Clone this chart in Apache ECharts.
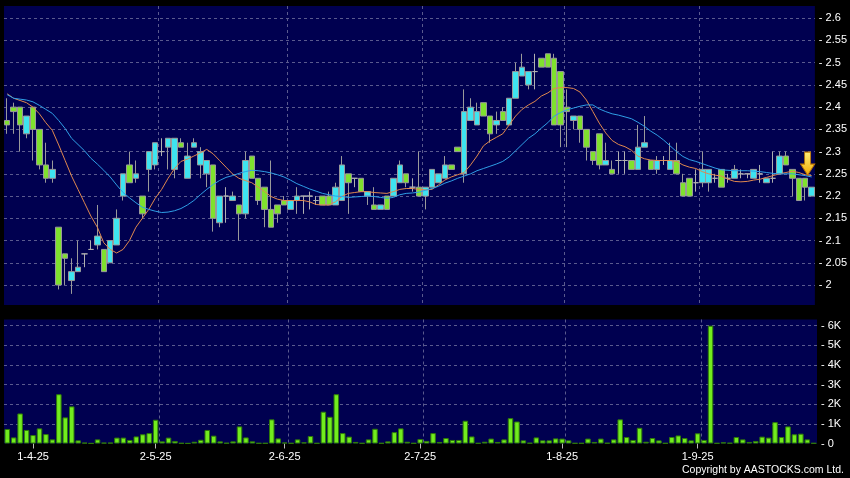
<!DOCTYPE html>
<html>
<head>
<meta charset="utf-8">
<script src="https://cdn.jsdelivr.net/npm/echarts@6/dist/echarts.min.js"></script>
<style>
html,body{margin:0;padding:0;background:#000;}
#c{width:850px;height:478px;}
</style>
</head>
<body>
<div id="c"></div>
<script>
// ---- data ----
const dates = [
 '2025-03-26','2025-03-27','2025-03-28','2025-03-31',
 '2025-04-01','2025-04-02','2025-04-03','2025-04-07','2025-04-08','2025-04-09','2025-04-10','2025-04-11','2025-04-14','2025-04-15',
 '2025-04-16','2025-04-17','2025-04-22','2025-04-23','2025-04-24','2025-04-25','2025-04-28','2025-04-29','2025-04-30',
 '2025-05-02','2025-05-06','2025-05-07','2025-05-08','2025-05-09','2025-05-12','2025-05-13','2025-05-14','2025-05-15','2025-05-16',
 '2025-05-19','2025-05-20','2025-05-21','2025-05-22','2025-05-23','2025-05-26','2025-05-27','2025-05-28','2025-05-29','2025-05-30',
 '2025-06-02','2025-06-03','2025-06-04','2025-06-05','2025-06-06','2025-06-09','2025-06-10','2025-06-11','2025-06-12','2025-06-13',
 '2025-06-16','2025-06-17','2025-06-18','2025-06-19','2025-06-20','2025-06-23','2025-06-24','2025-06-25','2025-06-26','2025-06-27','2025-06-30',
 '2025-07-02','2025-07-03','2025-07-04','2025-07-07','2025-07-08','2025-07-09','2025-07-10','2025-07-11','2025-07-14','2025-07-15',
 '2025-07-16','2025-07-17','2025-07-18','2025-07-21','2025-07-22','2025-07-23','2025-07-24','2025-07-25','2025-07-28','2025-07-29','2025-07-30','2025-07-31',
 '2025-08-01','2025-08-04','2025-08-05','2025-08-06','2025-08-07','2025-08-08','2025-08-11','2025-08-12','2025-08-13','2025-08-14','2025-08-15',
 '2025-08-18','2025-08-19','2025-08-20','2025-08-21','2025-08-22','2025-08-25','2025-08-26','2025-08-27','2025-08-28','2025-08-29',
 '2025-09-01','2025-09-02','2025-09-03','2025-09-04','2025-09-05','2025-09-08','2025-09-09','2025-09-10','2025-09-11','2025-09-12',
 '2025-09-15','2025-09-16','2025-09-17','2025-09-18','2025-09-19','2025-09-22','2025-09-23','2025-09-24','2025-09-25'
];
const opens = [
 2.37,2.40,2.40,2.34,2.40,2.35,2.27,2.24,2.13,2.07,
 2.01,2.03,2.07,2.08,2.09,2.08,2.05,2.09,2.20,2.27,
 2.24,2.20,2.26,2.27,2.30,2.31,2.26,2.32,2.24,2.31,
 2.27,2.25,2.27,2.14,2.20,2.19,2.18,2.16,2.29,2.24,
 2.22,2.17,2.18,2.19,2.17,2.19,2.20,2.20,2.19,2.20,
 2.20,2.18,2.19,2.25,2.24,2.24,2.20,2.18,2.17,2.20,
 2.20,2.23,2.25,2.22,2.22,2.20,2.22,2.23,2.24,2.27,
 2.31,2.25,2.37,2.36,2.41,2.38,2.36,2.39,2.36,2.42,
 2.47,2.45,2.48,2.51,2.52,2.51,2.48,2.40,2.37,2.38,
 2.35,2.30,2.34,2.27,2.26,2.28,2.28,2.28,2.26,2.31,
 2.28,2.26,2.28,2.26,2.28,2.23,2.24,2.23,2.23,2.23,
 2.24,2.26,2.24,2.24,2.25,2.25,2.24,2.25,2.23,2.24,
 2.25,2.29,2.26,2.24,2.24,2.20
];
const closes = [
 2.36,2.39,2.36,2.38,2.35,2.27,2.24,2.26,2.00,2.06,
 2.03,2.04,2.07,2.08,2.11,2.03,2.10,2.15,2.25,2.23,
 2.25,2.16,2.30,2.32,2.30,2.33,2.33,2.31,2.29,2.32,
 2.30,2.28,2.15,2.20,2.20,2.20,2.16,2.28,2.24,2.19,
 2.17,2.13,2.16,2.18,2.19,2.20,2.20,2.20,2.19,2.18,
 2.18,2.22,2.27,2.23,2.24,2.21,2.21,2.17,2.18,2.17,
 2.24,2.27,2.23,2.22,2.20,2.22,2.26,2.25,2.27,2.26,
 2.30,2.39,2.40,2.39,2.38,2.34,2.37,2.37,2.42,2.48,
 2.49,2.48,2.48,2.49,2.49,2.36,2.36,2.39,2.38,2.35,
 2.31,2.28,2.27,2.28,2.25,2.28,2.28,2.26,2.31,2.32,
 2.26,2.28,2.28,2.28,2.25,2.20,2.20,2.23,2.26,2.26,
 2.24,2.22,2.24,2.26,2.25,2.25,2.26,2.25,2.24,2.24,
 2.29,2.27,2.24,2.19,2.22,2.22
];
const lows = [
 2.34,2.34,2.30,2.33,2.28,2.26,2.23,2.23,1.99,2.00,
 1.98,2.03,2.04,2.08,2.08,2.03,2.05,2.09,2.19,2.23,
 2.23,2.15,2.21,2.26,2.29,2.26,2.24,2.31,2.24,2.31,
 2.24,2.22,2.12,2.13,2.14,2.19,2.10,2.15,2.24,2.18,
 2.13,2.13,2.14,2.18,2.17,2.16,2.16,2.17,2.18,2.18,
 2.18,2.18,2.19,2.16,2.22,2.21,2.18,2.17,2.17,2.17,
 2.20,2.23,2.22,2.21,2.20,2.17,2.22,2.23,2.24,2.26,
 2.30,2.23,2.37,2.36,2.38,2.32,2.34,2.37,2.36,2.42,
 2.47,2.44,2.44,2.49,2.49,2.36,2.31,2.31,2.35,2.32,
 2.28,2.27,2.26,2.27,2.25,2.25,2.25,2.26,2.26,2.31,
 2.26,2.25,2.27,2.26,2.25,2.20,2.20,2.21,2.22,2.21,
 2.23,2.22,2.23,2.24,2.24,2.24,2.24,2.23,2.23,2.23,
 2.25,2.27,2.20,2.19,2.19,2.20
];
const highs = [
 2.42,2.41,2.40,2.38,2.40,2.35,2.32,2.28,2.13,2.07,
 2.06,2.10,2.07,2.10,2.18,2.08,2.10,2.17,2.25,2.30,
 2.28,2.20,2.30,2.32,2.33,2.33,2.33,2.33,2.32,2.33,
 2.31,2.28,2.27,2.20,2.22,2.21,2.18,2.30,2.29,2.24,
 2.22,2.28,2.18,2.20,2.19,2.22,2.20,2.21,2.20,2.20,
 2.21,2.23,2.29,2.25,2.24,2.24,2.21,2.22,2.18,2.20,
 2.24,2.28,2.25,2.24,2.30,2.22,2.26,2.25,2.29,2.27,
 2.31,2.44,2.42,2.41,2.41,2.38,2.39,2.40,2.42,2.50,
 2.52,2.48,2.52,2.51,2.52,2.52,2.48,2.44,2.38,2.38,
 2.35,2.30,2.34,2.32,2.28,2.30,2.30,2.28,2.36,2.38,
 2.28,2.29,2.29,2.32,2.32,2.25,2.24,2.26,2.30,2.26,
 2.25,2.26,2.25,2.27,2.26,2.25,2.26,2.27,2.24,2.30,
 2.30,2.30,2.26,2.24,2.24,2.22
];
// volume in thousands
const volumes = [
 0.74,0.31,1.53,0.69,0.43,0.77,0.48,0.21,2.51,1.33,
 1.89,0.16,0.04,0.01,0.21,0.04,0.04,0.30,0.30,0.18,
 0.36,0.47,0.53,1.21,0.11,0.30,0.13,0.02,0.01,0.09,
 0.19,0.69,0.40,0.11,0.03,0.11,0.87,0.31,0.11,0.02,
 0.02,1.23,0.26,0.05,0.02,0.21,0.06,0.38,0.02,1.62,
 1.36,2.51,0.53,0.35,0.08,0.02,0.21,0.75,0.02,0.11,
 0.58,0.77,0.09,0.02,0.23,0.13,0.53,0.08,0.28,0.18,
 0.18,1.16,0.36,0.02,0.09,0.25,0.08,0.21,1.29,1.12,
 0.16,0.03,0.31,0.16,0.16,0.26,0.25,0.16,0.02,0.02,
 0.25,0.08,0.25,0.03,0.21,1.23,0.33,0.18,0.80,0.09,
 0.28,0.16,0.02,0.33,0.41,0.28,0.16,0.52,0.18,6.00,
 0.02,0.06,0.03,0.33,0.21,0.08,0.13,0.35,0.30,1.09,
 0.33,0.87,0.47,0.50,0.21,0.02
];
const maShort = [
 2.43,2.42,2.415,2.41,2.40,2.385,2.365,2.348,2.315,2.28,
 2.245,2.215,2.185,2.155,2.13,2.095,2.08,2.072,2.08,2.10,
 2.13,2.15,2.17,2.195,2.215,2.24,2.262,2.278,2.283,2.29,
 2.297,2.305,2.295,2.28,2.265,2.25,2.24,2.235,2.23,2.22,
 2.21,2.199,2.193,2.19,2.19,2.19,2.19,2.187,2.181,2.18,
 2.18,2.187,2.199,2.206,2.208,2.21,2.21,2.208,2.207,2.206,
 2.21,2.215,2.217,2.217,2.215,2.214,2.215,2.225,2.236,2.243,
 2.248,2.253,2.27,2.29,2.313,2.324,2.332,2.34,2.36,2.38,
 2.395,2.405,2.413,2.425,2.432,2.442,2.444,2.444,2.442,2.434,
 2.416,2.39,2.364,2.342,2.325,2.316,2.311,2.303,2.29,2.284,
 2.281,2.28,2.28,2.28,2.278,2.27,2.265,2.262,2.255,2.25,
 2.247,2.245,2.238,2.233,2.232,2.233,2.236,2.238,2.242,2.246,
 2.25,2.253,2.256,2.253,2.248,2.246
];
const maLong = [
 2.428,2.42,2.418,2.416,2.412,2.404,2.395,2.386,2.37,2.352,
 2.33,2.316,2.302,2.285,2.272,2.258,2.243,2.225,2.208,2.196,
 2.185,2.175,2.17,2.166,2.163,2.164,2.167,2.172,2.18,2.19,
 2.203,2.215,2.226,2.235,2.242,2.246,2.251,2.255,2.258,2.257,
 2.255,2.252,2.248,2.243,2.236,2.228,2.222,2.216,2.211,2.206,
 2.203,2.2,2.199,2.197,2.198,2.199,2.2,2.199,2.197,2.195,
 2.197,2.203,2.206,2.207,2.209,2.213,2.217,2.222,2.229,2.234,
 2.24,2.245,2.25,2.257,2.262,2.267,2.272,2.278,2.288,2.302,
 2.316,2.33,2.34,2.353,2.365,2.38,2.388,2.394,2.398,2.402,
 2.405,2.405,2.396,2.39,2.385,2.382,2.378,2.374,2.366,2.357,
 2.346,2.337,2.326,2.313,2.30,2.289,2.282,2.278,2.273,2.268,
 2.263,2.259,2.258,2.257,2.257,2.257,2.256,2.255,2.253,2.251,
 2.25,2.25,2.25,2.248,2.246,2.243
];
const priceTicks = [2, 2.05, 2.1, 2.15, 2.2, 2.25, 2.3, 2.35, 2.4, 2.45, 2.5, 2.55, 2.6];
const volumeTicks = [0, 1, 2, 3, 4, 5, 6];

// ---- helpers ----
// first trading day of each month (after the first month shown) gets a label
const labelIdx = new Set();
dates.forEach((d, i) => { if (i > 0 && d.slice(5, 7) !== dates[i - 1].slice(5, 7)) labelIdx.add(i); });
function fmtDate(d) {
  const p = d.split('-');
  return (+p[2]) + '-' + (+p[1]) + '-' + p[0].slice(2);
}
const gridColor = '#5a5a8e';
const plotBg = '#000050';
const FONT = "'Liberation Sans', Arial, sans-serif";

const candleData = dates.map((d, i) => [opens[i], closes[i], lows[i], highs[i]]);
const last = dates.length - 1;

const chart = echarts.init(document.getElementById('c'), null, {renderer: 'canvas'});
chart.setOption({
  animation: false,
  backgroundColor: '#000',
  textStyle: {fontFamily: FONT},
  grid: [
    {left: 4, top: 6, width: 813, height: 299, show: true, backgroundColor: plotBg, borderWidth: 0},
    {left: 4, top: 319.5, width: 813, height: 124, show: true, backgroundColor: plotBg, borderWidth: 0}
  ],
  xAxis: [
    {
      type: 'category', gridIndex: 0, data: dates, boundaryGap: true,
      axisLine: {show: false}, axisTick: {show: false}, axisLabel: {show: false},
      splitLine: {show: true, interval: (i) => labelIdx.has(i - 1), showMinLine: false, showMaxLine: false,
        lineStyle: {color: gridColor, type: [3, 3], width: 1}}
    },
    {
      type: 'category', gridIndex: 1, data: dates, boundaryGap: true,
      axisLine: {show: false},
      axisTick: {show: true, alignWithLabel: true, interval: (i) => labelIdx.has(i), length: 5, lineStyle: {color: '#bbbbbb'}},
      axisLabel: {show: true, interval: (i) => labelIdx.has(i), formatter: fmtDate, color: '#ffffff', fontSize: 11, margin: 8, fontFamily: FONT},
      splitLine: {show: true, interval: (i) => labelIdx.has(i - 1), showMinLine: false, showMaxLine: false,
        lineStyle: {color: gridColor, type: [3, 3], width: 1}}
    }
  ],
  yAxis: [
    {
      type: 'value', gridIndex: 0, position: 'right', min: 1.955, max: 2.6275, scale: true,
      axisLine: {show: false},
      axisTick: {show: false, customValues: priceTicks},
      axisLabel: {customValues: priceTicks, formatter: (v) => '- ' + v, color: '#ffffff', fontSize: 11, margin: 4, fontFamily: FONT},
      splitLine: {show: true, lineStyle: {color: gridColor, type: [3, 3], width: 1}}
    },
    {
      type: 'value', gridIndex: 1, position: 'right', min: 0, max: 6.315,
      axisLine: {show: false},
      axisTick: {show: false, customValues: volumeTicks},
      axisLabel: {customValues: volumeTicks, formatter: (v) => '- ' + (v === 0 ? '0' : v + 'K'), color: '#ffffff', fontSize: 11, margin: 4, fontFamily: FONT},
      splitLine: {show: true, showMinLine: false, lineStyle: {color: gridColor, type: [3, 3], width: 1}}
    }
  ],
  series: [
    {
      type: 'candlestick', xAxisIndex: 0, yAxisIndex: 0, data: candleData, barWidth: 6,
      itemStyle: {color: '#3ee4f0', color0: '#7fe12e', borderColor: '#9a9a9a', borderColor0: '#9a9a9a', borderColorDoji: '#b0b0b0', borderWidth: 1},
      markPoint: {
        silent: true,
        symbol: 'path://M4,0 L10,0 L10,12 L14,12 L7,23 L0,12 L4,12 Z',
        symbolSize: [14, 23],
        symbolOffset: [-4, -12],
        label: {show: false},
        itemStyle: {
          color: new echarts.graphic.LinearGradient(0, 0, 0, 1, [{offset: 0, color: '#fff07a'}, {offset: 1, color: '#f0a800'}]),
          borderColor: '#c07800', borderWidth: 1
        },
        data: [{coord: [dates[last], maShort[last]]}]
      }
    },
    {
      type: 'line', xAxisIndex: 0, yAxisIndex: 0, data: maShort, symbol: 'none', silent: true,
      lineStyle: {color: '#e0884e', width: 1}, z: 3
    },
    {
      type: 'line', xAxisIndex: 0, yAxisIndex: 0, data: maLong, symbol: 'none', silent: true,
      lineStyle: {color: '#2f9fe6', width: 1}, z: 3
    },
    {
      type: 'bar', xAxisIndex: 1, yAxisIndex: 1, data: volumes, barWidth: 5.5, silent: true,
      itemStyle: {color: '#72ec1e', borderColor: '#2f7a0a', borderWidth: 1}
    }
  ],
  graphic: [
    {type: 'text', right: 6, top: 465, silent: true,
     style: {text: 'Copyright by AASTOCKS.com Ltd.', fill: '#ffffff', font: "10.5px 'Liberation Sans', Arial, sans-serif"}}
  ]
});
</script>
</body>
</html>
